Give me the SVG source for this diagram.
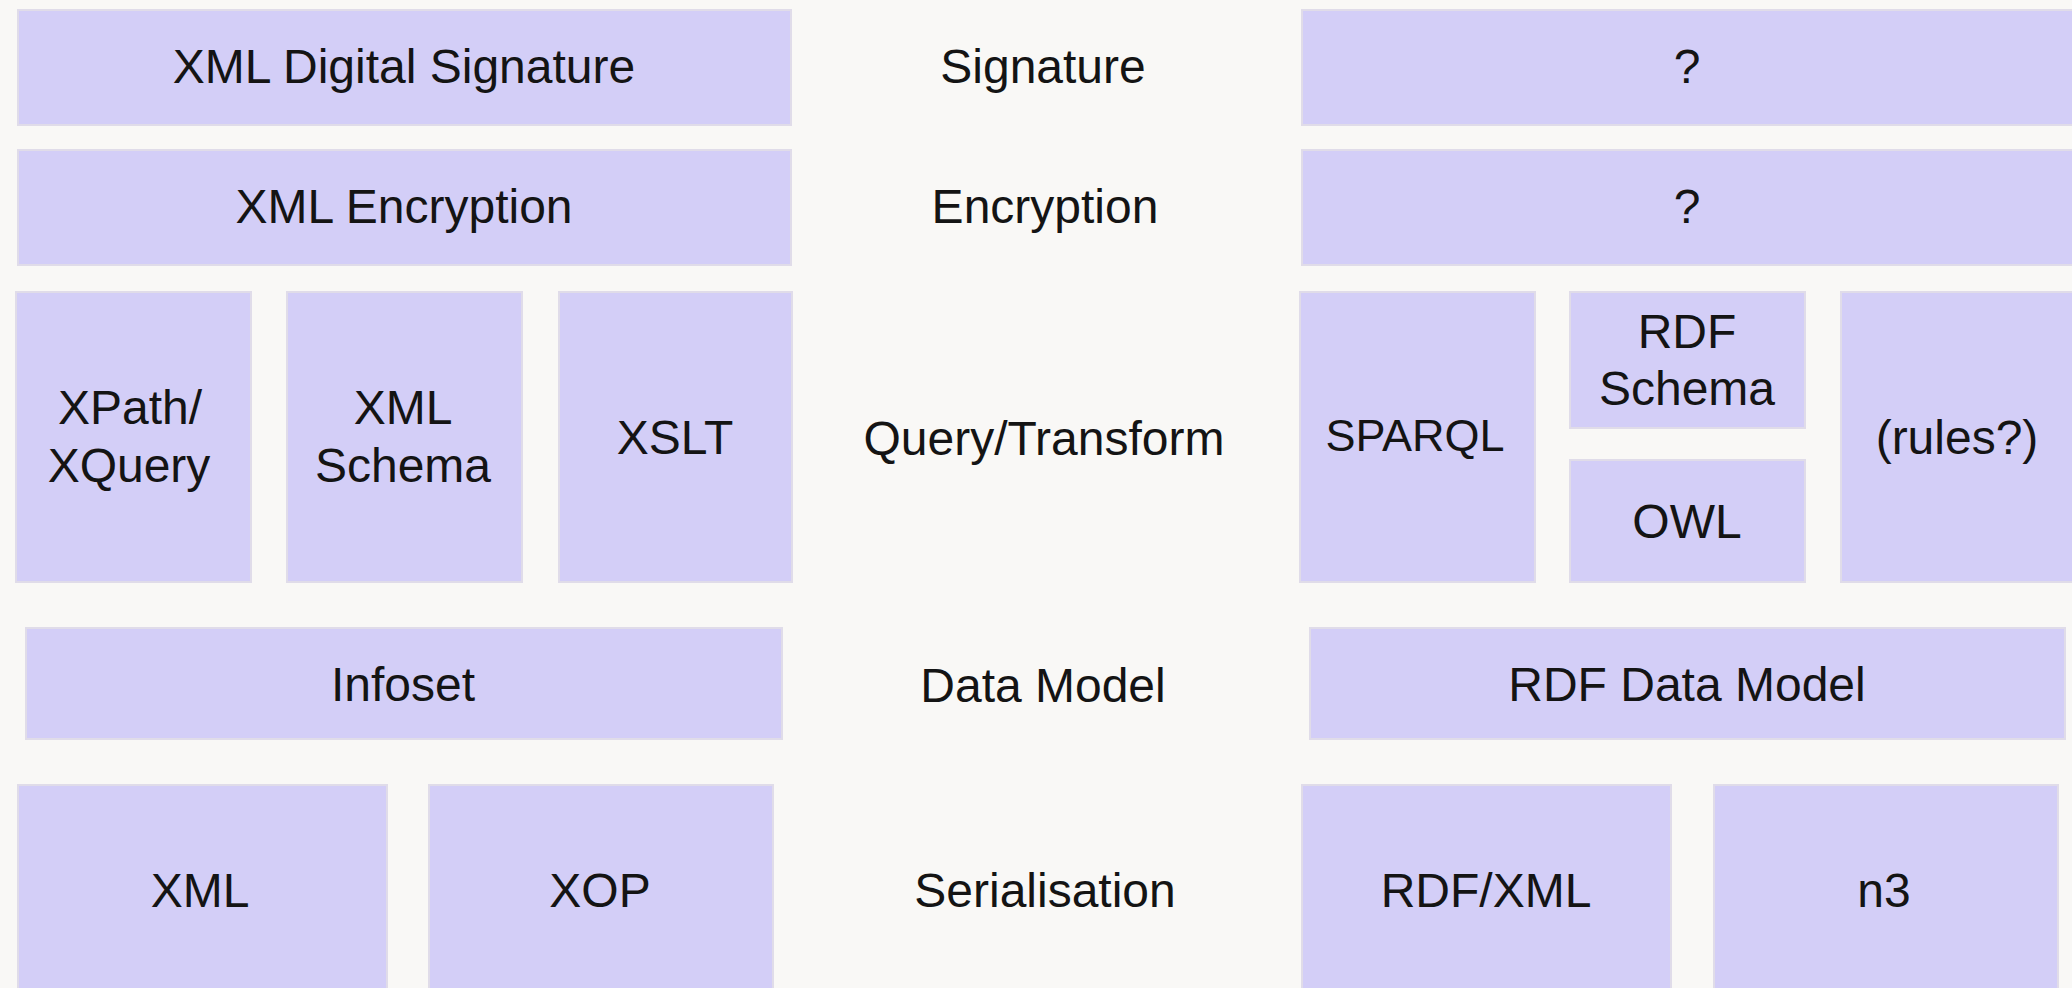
<svg xmlns="http://www.w3.org/2000/svg" width="2072" height="988" viewBox="0 0 2072 988">
  <style>
    .box { fill: #d3cef7; stroke: #e0dce9; stroke-width: 2; }
    .lbl { font-family: "Liberation Sans", Arial, sans-serif; font-size: 48px; fill: #141414; text-anchor: middle; }
    .small { font-size: 45px; }
  </style>
  <rect width="2072" height="988" fill="#f9f8f6"/>

  <!-- XML stack (left) -->
  <g id="xml-digital-signature">
    <rect class="box" x="18" y="10" width="773" height="115"/>
    <text class="lbl" x="404" y="83">XML Digital Signature</text>
  </g>
  <g id="xml-encryption">
    <rect class="box" x="18" y="150" width="773" height="115"/>
    <text class="lbl" x="404" y="223">XML Encryption</text>
  </g>
  <g id="xpath-xquery">
    <rect class="box" x="16" y="292" width="235" height="290"/>
    <text class="lbl" x="130" y="424">XPath/</text>
    <text class="lbl" x="129" y="482">XQuery</text>
  </g>
  <g id="xml-schema">
    <rect class="box" x="287" y="292" width="235" height="290"/>
    <text class="lbl" x="403" y="424">XML</text>
    <text class="lbl" x="403" y="482">Schema</text>
  </g>
  <g id="xslt">
    <rect class="box" x="559" y="292" width="233" height="290"/>
    <text class="lbl" x="675" y="454">XSLT</text>
  </g>
  <g id="infoset">
    <rect class="box" x="26" y="628" width="756" height="111"/>
    <text class="lbl" x="403" y="701">Infoset</text>
  </g>
  <g id="xml">
    <rect class="box" x="18" y="785" width="369" height="215"/>
    <text class="lbl" x="200" y="907">XML</text>
  </g>
  <g id="xop">
    <rect class="box" x="429" y="785" width="344" height="215"/>
    <text class="lbl" x="600" y="907">XOP</text>
  </g>

  <!-- Layer names (centre) -->
  <g id="layer-signature"><text class="lbl" x="1043" y="83">Signature</text></g>
  <g id="layer-encryption"><text class="lbl" x="1045" y="223">Encryption</text></g>
  <g id="layer-query-transform"><text class="lbl" x="1044" y="455">Query/Transform</text></g>
  <g id="layer-data-model"><text class="lbl" x="1043" y="702">Data Model</text></g>
  <g id="layer-serialisation"><text class="lbl" x="1045" y="907">Serialisation</text></g>

  <!-- RDF stack (right) -->
  <g id="rdf-signature">
    <rect class="box" x="1302" y="10" width="780" height="115"/>
    <text class="lbl" x="1687" y="83">?</text>
  </g>
  <g id="rdf-encryption">
    <rect class="box" x="1302" y="150" width="780" height="115"/>
    <text class="lbl" x="1687" y="223">?</text>
  </g>
  <g id="sparql">
    <rect class="box" x="1300" y="292" width="235" height="290"/>
    <text class="lbl small" x="1415" y="451">SPARQL</text>
  </g>
  <g id="rdf-schema">
    <rect class="box" x="1570" y="292" width="235" height="136"/>
    <text class="lbl" x="1687" y="348">RDF</text>
    <text class="lbl" x="1687" y="405">Schema</text>
  </g>
  <g id="owl">
    <rect class="box" x="1570" y="460" width="235" height="122"/>
    <text class="lbl" x="1687" y="538">OWL</text>
  </g>
  <g id="rules">
    <rect class="box" x="1841" y="292" width="240" height="290"/>
    <text class="lbl" x="1957" y="454">(rules?)</text>
  </g>
  <g id="rdf-data-model">
    <rect class="box" x="1310" y="628" width="755" height="111"/>
    <text class="lbl" x="1687" y="701">RDF Data Model</text>
  </g>
  <g id="rdf-xml">
    <rect class="box" x="1302" y="785" width="369" height="215"/>
    <text class="lbl" x="1486" y="907">RDF/XML</text>
  </g>
  <g id="n3">
    <rect class="box" x="1714" y="785" width="344" height="215"/>
    <text class="lbl" x="1884" y="907">n3</text>
  </g>
</svg>
